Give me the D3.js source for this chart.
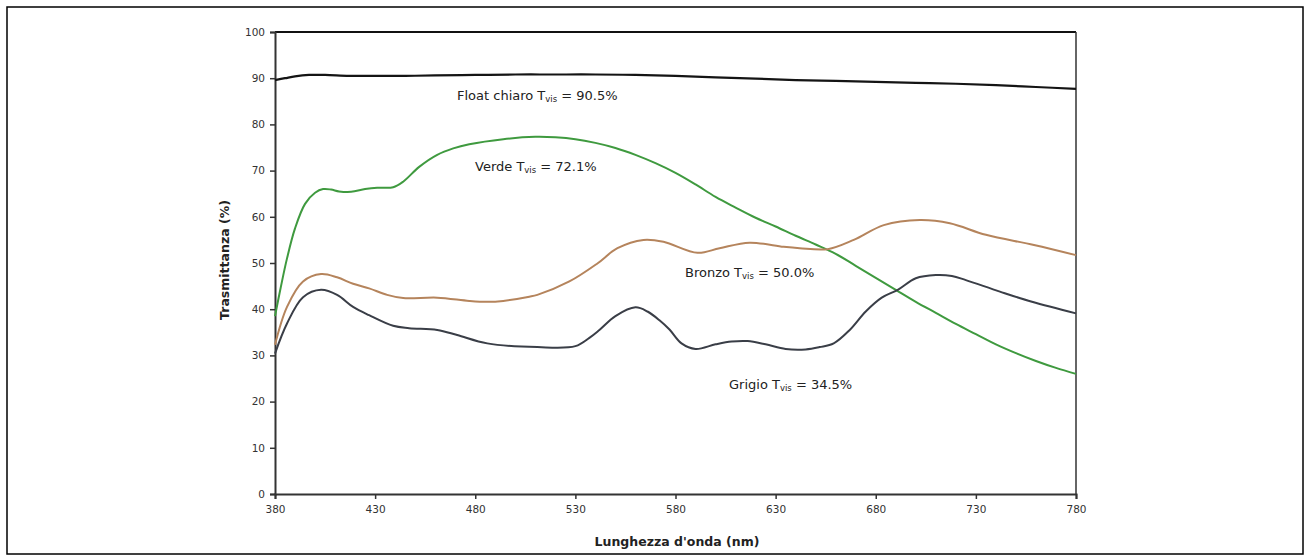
<!DOCTYPE html>
<html><head><meta charset="utf-8">
<script src="https://cdn.jsdelivr.net/npm/d3@7"></script>
<style>
html,body{margin:0;padding:0;background:#fff;}
svg text{font-family:"DejaVu Sans","Liberation Sans",sans-serif;}
</style></head>
<body><svg id="c" width="1310" height="558"></svg>
<script>
// ---- data ----
const xTicks = [380,430,480,530,580,630,680,730,780];
const yTicks = [0,10,20,30,40,50,60,70,80,90,100];

const floatNm  = [380,385,390,397,405,417,430,445,460,480,500,520,540,560,580,600,620,640,660,680,700,720,740,760,780];
const floatVal = [89.6,90.0,90.4,90.7,90.7,90.5,90.5,90.5,90.6,90.7,90.8,90.8,90.8,90.7,90.5,90.2,89.9,89.6,89.4,89.2,89.0,88.8,88.5,88.1,87.7];

const verdeNm  = [380,383,386,390,395,400,404,408,412,418,425,431,439,444,452,461,469,477,494,510,520,530,540,550,560,570,580,590,600,610,620,630,640,650,660,670,680,690,700,710,720,730,740,750,760,770,780];
const verdeVal = [38.5,45,51,57.5,62.8,65.2,66.0,65.9,65.5,65.4,66.0,66.3,66.4,67.6,70.8,73.4,74.8,75.7,76.8,77.3,77.2,76.8,76.0,74.9,73.4,71.6,69.5,67.0,64.3,62.0,59.8,57.9,55.9,54.0,52.0,49.4,46.8,44.2,41.6,39.2,36.8,34.6,32.4,30.5,28.8,27.3,26.0];

const bronzoNm  = [380,386,394,403,411,419,427,436,444,461,477,486,494,507,511,527,541,551,564,574,591,602,617,634,642,656,669,684,702,717,735,759,780];
const bronzoVal = [32.3,40.5,46.0,47.6,46.9,45.5,44.5,43.1,42.4,42.5,41.8,41.6,41.8,42.7,43.1,46.0,49.9,53.2,55.0,54.6,52.2,53.2,54.4,53.5,53.2,53.0,55.0,58.2,59.3,58.6,56.1,53.9,51.7];

const grigioNm  = [380,386,394,403,411,419,427,439,447,461,471,486,511,530,537,542,550,560,566,572,577,583,590,600,608,616,625,635,645,652,659,667,675,683,691,700,710,718,725,742,758,780];
const grigioVal = [30.4,36.9,42.6,44.2,43.1,40.5,38.7,36.4,35.9,35.5,34.4,32.6,31.8,32.0,33.8,35.5,38.5,40.4,39.5,37.6,35.6,32.6,31.4,32.4,33.0,33.1,32.4,31.4,31.3,31.8,32.6,35.5,39.5,42.5,44.2,46.7,47.4,47.2,46.3,43.8,41.6,39.1];

const labels = ["Float chiaro", "Verde", "Bronzo", "Grigio"];
const tvis   = ["90.5%", "72.1%", "50.0%", "34.5%"];
const colors = ["#141414", "#3f9a3f", "#b5845c", "#3a3e47"];

// ---- chart ----
const svg = d3.select("#c");
const x = d3.scaleLinear().domain([380,780]).range([275,1076]);
const y = d3.scaleLinear().domain([0,100]).range([494,32]);

svg.append("rect").attr("x",7).attr("y",7).attr("width",1296).attr("height",547)
  .attr("fill","none").attr("stroke","#000").attr("stroke-width",1.5);

svg.append("line").attr("x1",x(380)).attr("x2",x(780)).attr("y1",y(100)).attr("y2",y(100))
  .attr("stroke","#111").attr("stroke-width",2);
svg.append("line").attr("x1",x(780)).attr("x2",x(780)).attr("y1",y(100)).attr("y2",y(0))
  .attr("stroke","#333").attr("stroke-width",1.5);

const xAxis = svg.append("g").attr("transform",`translate(0,${y(0)})`)
  .call(d3.axisBottom(x).tickValues(xTicks).tickSize(5).tickPadding(7).tickFormat(d3.format("d")));
const yAxis = svg.append("g").attr("transform",`translate(${x(380)},0)`)
  .call(d3.axisLeft(y).tickValues(yTicks).tickSize(5).tickPadding(5).tickFormat(d3.format("d")));
[xAxis,yAxis].forEach(g=>{
  g.select(".domain").attr("stroke","#333").attr("stroke-width",2);
  g.selectAll(".tick line").attr("stroke","#333").attr("stroke-width",1.5);
  g.selectAll(".tick text").attr("fill","#333").attr("font-size",10.5).attr("font-family","DejaVu Sans");
});

const series = [
  [floatNm,floatVal],[verdeNm,verdeVal],[bronzoNm,bronzoVal],[grigioNm,grigioVal]
];
const line = d3.line().x(d=>x(d[0])).y(d=>y(d[1])).curve(d3.curveCatmullRom.alpha(0.5));
series.forEach((s,i)=>{
  const pts = s[0].map((n,j)=>[n,s[1][j]]);
  svg.append("path").attr("d",line(pts)).attr("fill","none")
    .attr("stroke",colors[i]).attr("stroke-width",i===0?2.2:2);
});

// annotations
const annPos = [[457,100],[475,171],[685,277],[729,389]];
annPos.forEach((p,i)=>{
  const t = svg.append("text").attr("x",p[0]).attr("y",p[1]).attr("font-size",13).attr("fill","#222");
  t.append("tspan").text(labels[i]+" T");
  t.append("tspan").attr("font-size",8.5).attr("dy",2).text("vis");
  t.append("tspan").attr("dy",-2).text(" = "+tvis[i]);
});

svg.append("text").attr("x",677).attr("y",546).attr("text-anchor","middle")
  .attr("font-size",12.5).attr("font-weight","bold").attr("fill","#222").text("Lunghezza d'onda (nm)");
svg.append("text").attr("transform","translate(229,260) rotate(-90)").attr("text-anchor","middle")
  .attr("font-size",12.5).attr("font-weight","bold").attr("fill","#222").text("Trasmittanza (%)");
</script></body></html>
